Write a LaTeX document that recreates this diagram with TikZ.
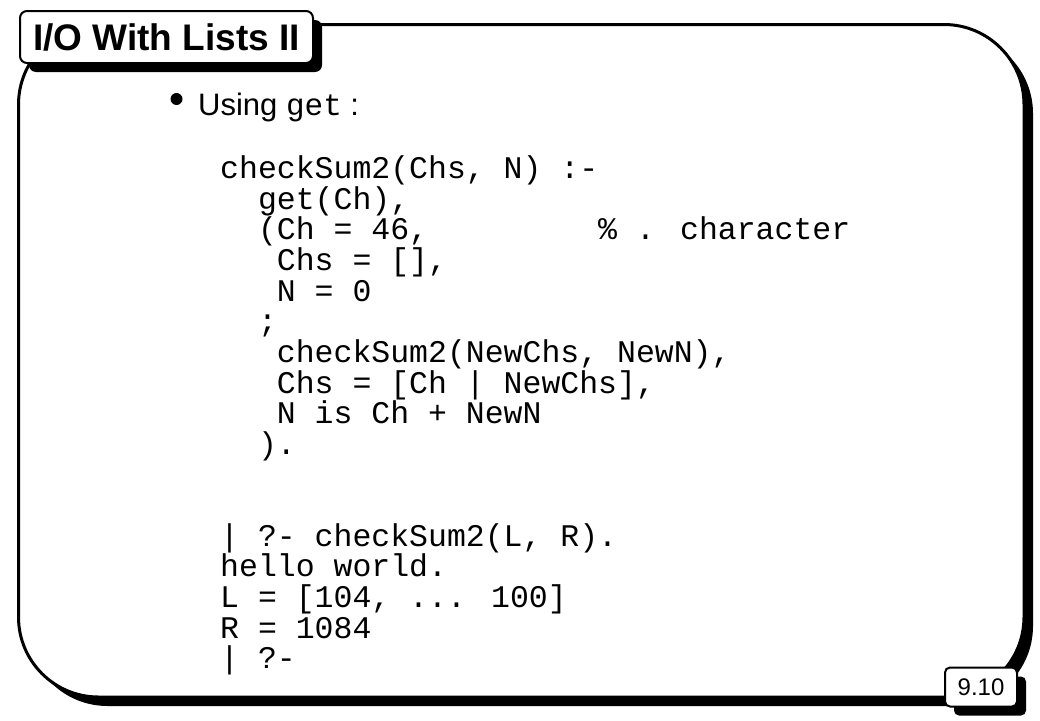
\documentclass[tikz,border=0pt]{standalone}
\usepackage{fontspec}
\setmainfont{Liberation Sans}
\newfontfamily\codefont{Liberation Mono}
\usetikzlibrary{shadows}
\tikzset{
  boxshadow/.style={general shadow={fill=black, shadow xshift=9pt, shadow yshift=-9pt}},
  codeline/.style={anchor=base west, inner sep=0pt, font=\codefont\fontsize{31.5}{31.5}\selectfont},
  labelbox/.style={draw, fill=white, inner sep=0pt, boxshadow},
}
\newcommand\codeat[4]{\node[codeline] (#1) at ({220+#2*18.9},{178.5+#3*30.65}) {#4};}
\begin{document}
\begin{tikzpicture}[x=1pt,y=-1pt]
\useasboundingbox (0,0) rectangle (1040,720);
\fill[white] (0,0) rectangle (1040,720);
% main frame
\node[labelbox, line width=3pt, rounded corners=80pt, minimum width=1005.5pt, minimum height=672.5pt] (frame) at (521.25,360.75) {};
% title
\node[labelbox, line width=2pt, rounded corners=7pt, minimum width=293pt, minimum height=52pt,
      font=\bfseries\fontsize{37}{37}\selectfont, text height=26.5pt, text depth=0pt] (title) at (166.5,37) {I/O With Lists II};
% page number
\node[labelbox, line width=2pt, rounded corners=5pt, minimum width=72pt, minimum height=39pt,
      font=\fontsize{24}{24}\selectfont, text height=17pt, text depth=0pt] (page) at (981,687) {9.10};
% bullet
\node[circle, fill=black, inner sep=0pt, minimum size=12pt] (bullet) at (176.5,99) {};
\node[anchor=base west, inner sep=0pt, font=\fontsize{31}{31}\selectfont] (using) at (198,115)
  {Using {\codefont\fontsize{31}{31}\selectfont get} :};
% code
\codeat{l0}{0}{0}{checkSum2(Chs, N) :-}
\codeat{l1}{2}{1}{get(Ch),}
\codeat{l2}{2}{2}{(Ch = 46,\hspace*{170.1pt}\% . character}
\codeat{l3}{3}{3}{Chs = [],}
\codeat{l4}{3}{4}{N = 0}
\codeat{l5}{2}{5}{;}
\codeat{l6}{3}{6}{checkSum2(NewChs, NewN),}
\codeat{l7}{3}{7}{Chs = [Ch | NewChs],}
\codeat{l8}{3}{8}{N is Ch + NewN}
\codeat{l9}{2}{9}{).}
\codeat{l12}{0}{12}{| ?- checkSum2(L, R).}
\codeat{l13}{0}{13}{hello world.}
\codeat{l14}{0}{14}{L = [104, ... 100]}
\codeat{l15}{0}{15}{R = 1084}
\codeat{l16}{0}{16}{| ?-}
\end{tikzpicture}
\end{document}
